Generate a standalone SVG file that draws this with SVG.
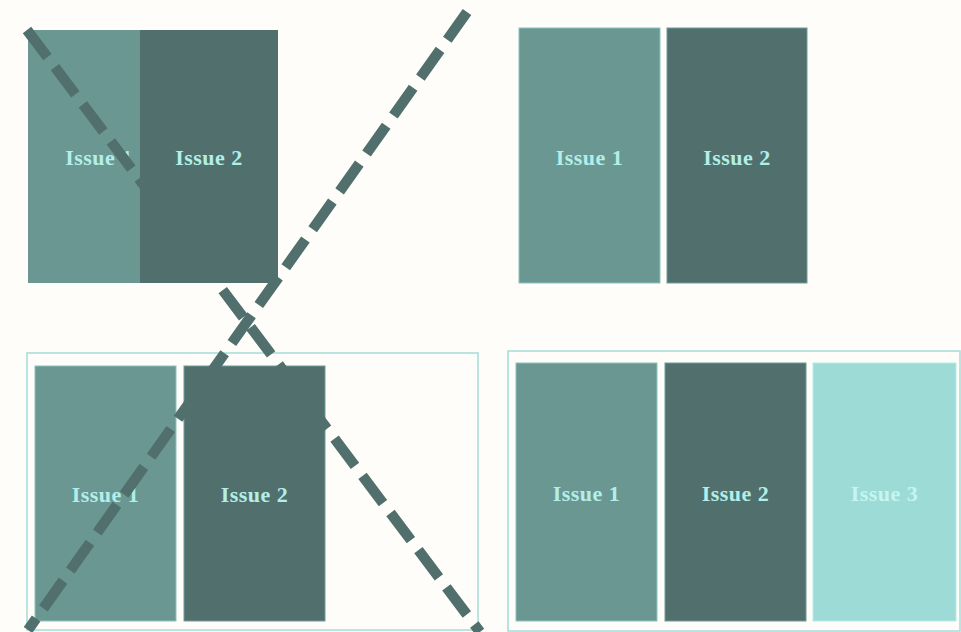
<svg xmlns="http://www.w3.org/2000/svg" width="961" height="632" viewBox="0 0 961 632">
  <style>
    .bg { fill: #fffdf9; }
    .frame { fill: none; stroke: #a3dcd7; stroke-width: 1.5; }
    .i1 { fill: #6b9793; stroke: #8cc4be; stroke-width: 1; }
    .i2 { fill: #51706d; stroke: #6f9c97; stroke-width: 1; }
    .i3 { fill: #9ddbd6; stroke: #b6ebe6; stroke-width: 1; }
    .lbl { font-family: "Liberation Serif", "DejaVu Serif", serif; font-weight: bold; font-size: 22px; letter-spacing: 0.5px; text-anchor: middle; fill: #b2efe9; }
    .lbl3 { fill: #c4f6f1; }
    .dash { fill: none; stroke: #51706d; stroke-width: 10.5; stroke-dasharray: 34 12.5; }
  </style>
  <rect class="bg" x="0" y="0" width="961" height="632"/>

  <!-- top left: two overlapping issues -->
  <g id="tl-issue1">
    <rect class="i1" x="28" y="30" width="141" height="253" style="stroke:none"/>
    <text class="lbl" x="99" y="165">Issue 1</text>
  </g>
  <g id="tl-issue2">
    <rect class="i2" x="140" y="30" width="138" height="253" style="stroke:none"/>
    <text class="lbl" x="209" y="165">Issue 2</text>
  </g>

  <!-- top right: two separate issues -->
  <g id="tr-issue1">
    <rect class="i1" x="519" y="28" width="141" height="255"/>
    <text class="lbl" x="589.5" y="165">Issue 1</text>
  </g>
  <g id="tr-issue2">
    <rect class="i2" x="667" y="28" width="140" height="255"/>
    <text class="lbl" x="737" y="165">Issue 2</text>
  </g>

  <!-- bottom left: frame with two issues -->
  <g id="bl-frame">
    <rect class="frame" x="27" y="353" width="451" height="277"/>
  </g>
  <g id="bl-issue1">
    <rect class="i1" x="35" y="366" width="141" height="255"/>
    <text class="lbl" x="105.5" y="502">Issue 1</text>
  </g>
  <g id="bl-issue2">
    <rect class="i2" x="184" y="366" width="141" height="255"/>
    <text class="lbl" x="254.5" y="502">Issue 2</text>
  </g>

  <!-- bottom right: frame with three issues -->
  <g id="br-frame">
    <rect class="frame" x="508" y="351" width="452" height="280"/>
  </g>
  <g id="br-issue1">
    <rect class="i1" x="516" y="363" width="141" height="258"/>
    <text class="lbl" x="586.5" y="501">Issue 1</text>
  </g>
  <g id="br-issue2">
    <rect class="i2" x="665" y="363" width="141" height="258"/>
    <text class="lbl" x="735.5" y="501">Issue 2</text>
  </g>
  <g id="br-issue3">
    <rect class="i3" x="813" y="363" width="143" height="258"/>
    <text class="lbl lbl3" x="884.5" y="501">Issue 3</text>
  </g>

  <!-- dashed cross over the left column -->
  <g id="connectors">
    <line class="dash" x1="27" y1="30" x2="480" y2="632"/>
    <line class="dash" x1="467" y1="12" x2="28" y2="630"/>
  </g>
</svg>
